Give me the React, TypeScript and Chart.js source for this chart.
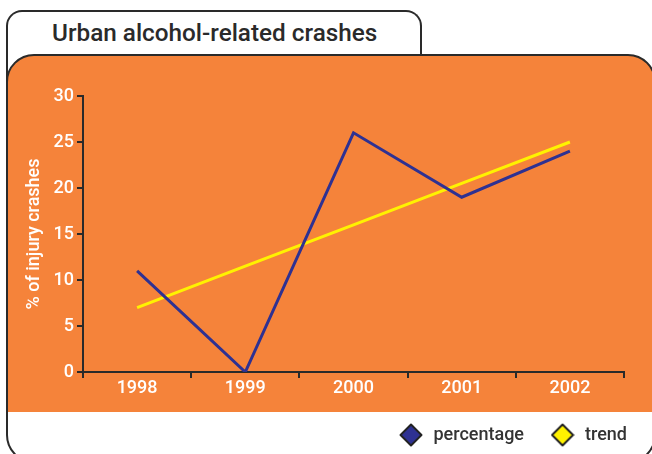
import React, { useEffect, useRef } from "react";
import { Chart, registerables } from "chart.js";

Chart.register(...registerables);

const years = ["1998", "1999", "2000", "2001", "2002"];
const percentage = [11, 0, 26, 19, 24];
const trend = [7, 11.5, 16, 20.5, 25];
const yTicks = [0, 5, 10, 15, 20, 25, 30];

const ORANGE = "#F5833A";
const BLUE = "#2E3192";
const YELLOW = "#FFF200";
const DARK = "#2a2a2a";
const FONT = 'Roboto, "Liberation Sans", Arial, sans-serif';

function diamond(fill: string): HTMLCanvasElement {
  const c = document.createElement("canvas");
  c.width = 24;
  c.height = 24;
  const ctx = c.getContext("2d")!;
  ctx.beginPath();
  ctx.moveTo(12, 1.5);
  ctx.lineTo(22.5, 12);
  ctx.lineTo(12, 22.5);
  ctx.lineTo(1.5, 12);
  ctx.closePath();
  ctx.fillStyle = fill;
  ctx.fill();
  ctx.lineJoin = "round";
  ctx.lineWidth = 2;
  ctx.strokeStyle = "#222";
  ctx.stroke();
  return c;
}

export default function App() {
  const ref = useRef<HTMLCanvasElement>(null);
  useEffect(() => {
    const markers = [diamond(BLUE), diamond(YELLOW)];
    const chart = new Chart(ref.current!, {
      type: "line",
      data: {
        labels: years,
        datasets: [
          {
            label: "percentage",
            data: percentage,
            borderColor: BLUE,
            backgroundColor: BLUE,
            borderWidth: 3,
            pointRadius: 0,
            tension: 0,
          },
          {
            label: "trend",
            data: trend,
            borderColor: YELLOW,
            backgroundColor: YELLOW,
            borderWidth: 3,
            pointRadius: 0,
            tension: 0,
          },
        ],
      },
      options: {
        animation: false,
        responsive: false,
        layout: { padding: { left: 0, right: 0, top: 96, bottom: 0 } },
        plugins: {
          tooltip: { enabled: false },
          legend: {
            position: "bottom",
            align: "end",
            labels: {
              usePointStyle: true,
              pointStyleWidth: 27,
              boxHeight: 15,
              padding: 25,
              color: "#333",
              font: { family: FONT, size: 18, weight: "500" },
              generateLabels: (ch: any) => {
                const items = Chart.defaults.plugins.legend.labels.generateLabels(ch);
                return items.map((it: any, i: number) => ({ ...it, pointStyle: markers[i] }));
              },
            },
          },
        },
        scales: {
          x: {
            offset: true,
            grid: {
              offset: true,
              drawOnChartArea: false,
              drawTicks: true,
              tickLength: 6,
              color: DARK,
              lineWidth: 2,
            },
            border: { color: DARK, width: 2 },
            ticks: { color: "#fff", font: { family: FONT, size: 18, weight: "500" }, padding: 0 },
            afterFit: (s: any) => {
              s.height = 29;
            },
          },
          y: {
            min: 0,
            max: 30,
            afterBuildTicks: (s: any) => {
              s.ticks = yTicks.map((v) => ({ value: v }));
            },
            grid: {
              drawOnChartArea: false,
              drawTicks: true,
              tickLength: 6,
              color: DARK,
              lineWidth: 2,
            },
            border: { color: DARK, width: 2 },
            ticks: { color: "#fff", font: { family: FONT, size: 18, weight: "500" }, padding: 3 },
            title: {
              display: true,
              text: "% of injury crashes",
              color: "#fff",
              font: { family: FONT, size: 18, weight: "500" },
              padding: { top: 24, bottom: 0 },
            },
            afterFit: (s: any) => {
              s.width = 83;
            },
          },
          y2: {
            position: "right",
            display: true,
            grid: { display: false },
            border: { display: false },
            ticks: { display: false },
            afterFit: (s: any) => {
              s.width = 28;
            },
          },
        },
      },
    });
    return () => chart.destroy();
  }, []);

  return (
    <div style={{ position: "absolute", left: 0, top: 0, width: 652, height: 454, overflow: "hidden", background: "#fff" }}>
      <div
        style={{
          position: "absolute",
          left: 6,
          top: 10,
          width: 412,
          height: 90,
          border: `2px solid ${DARK}`,
          borderBottom: "none",
          borderRadius: "16px 16px 0 0",
          background: "#fff",
        }}
      />
      <div
        style={{
          position: "absolute",
          left: 52,
          top: 18,
          fontFamily: FONT,
          fontSize: 24.3,
          fontWeight: 500,
          color: DARK,
          whiteSpace: "nowrap",
        }}
      >
        Urban alcohol-related crashes
      </div>
      <div
        style={{
          position: "absolute",
          left: 6,
          top: 54,
          width: 646,
          height: 405,
          border: `2px solid ${DARK}`,
          borderRadius: 28,
          background: `linear-gradient(to bottom, ${ORANGE} 0px, ${ORANGE} 356px, #fff 356px)`,
        }}
      />
      <canvas ref={ref} width={652} height={454} style={{ position: "absolute", left: 0, top: 0 }} />
    </div>
  );
}
